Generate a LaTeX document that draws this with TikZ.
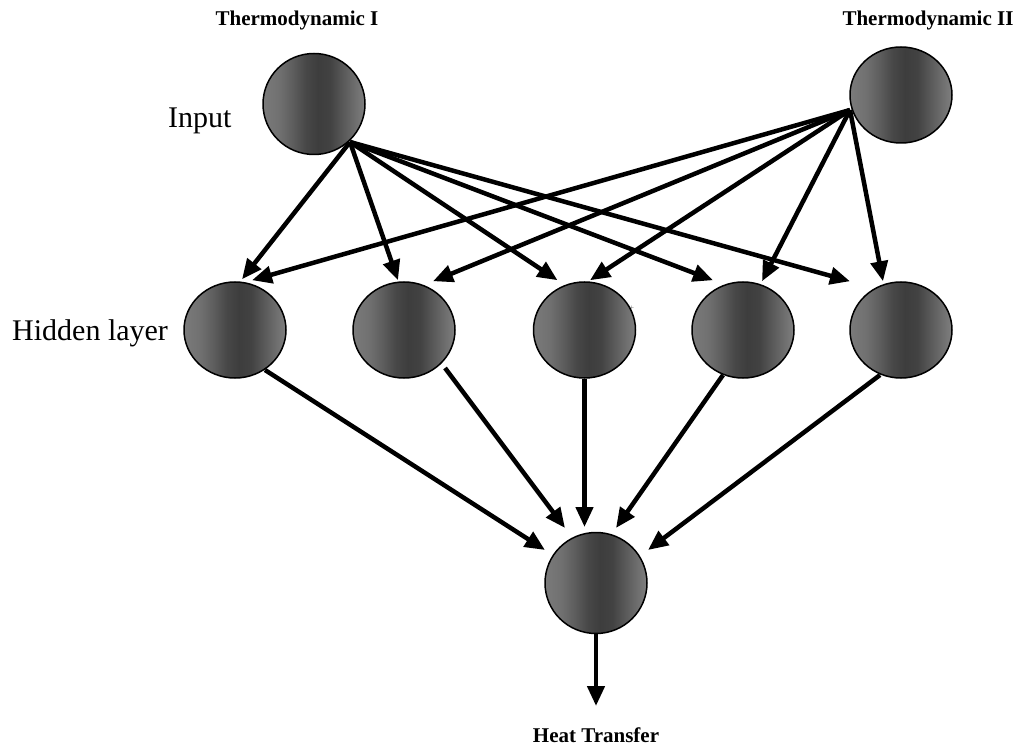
\documentclass[tikz,border=0pt]{standalone}
\usepackage{fontspec}
\setmainfont{Liberation Serif}
\usetikzlibrary{shapes.geometric,arrows.meta,calc}
\pgfdeclarehorizontalshading{ballshade}{100bp}{%
  color(0bp)=(black!52);
  color(25bp)=(black!52);
  color(33bp)=(black!56);
  color(40bp)=(black!64);
  color(46bp)=(black!72);
  color(52bp)=(black!76);
  color(58bp)=(black!74);
  color(65bp)=(black!64);
  color(75bp)=(black!50);
  color(100bp)=(black!50)}
\begin{document}
\begin{tikzpicture}[x=1pt,y=-1pt,
  neuron/.style={ellipse,draw=black,line width=1.5pt,shading=ballshade,
    minimum width=102pt,minimum height=96pt,inner sep=0pt},
  arr/.style={line width=4.5pt,-{Triangle[length=20pt,width=17pt]}},
  boldlbl/.style={font=\fontsize{21}{24}\selectfont\bfseries,inner sep=0pt},
  plainlbl/.style={font=\fontsize{30}{34}\selectfont,inner sep=0pt}]
\useasboundingbox (0,0) rectangle (1018,746);
% nodes
\node[neuron,minimum height=101pt] (i1) at (314,104) {};
\node[neuron] (i2) at (901,95) {};
\node[neuron] (h1) at (235,330) {};
\node[neuron] (h2) at (404,330) {};
\node[neuron] (h3) at (584.5,330) {};
\node[neuron] (h4) at (743,330) {};
\node[neuron] (h5) at (901,330) {};
\node[neuron,minimum height=101pt] (o) at (596,583) {};
% labels
\node[boldlbl,anchor=base] (t1) at (297,26) {Thermodynamic I};
\node[boldlbl,anchor=base] (t2) at (928,26) {Thermodynamic II};
\node[plainlbl,anchor=base west] (lin) at (168,128) {Input};
\node[plainlbl,anchor=base west] (lhid) at (12,341) {Hidden layer};
\node[boldlbl,anchor=base] (lout) at (596,742) {Heat Transfer};
\node[font=\fontsize{8}{8}\selectfont,text=black!60,inner sep=0pt] (plus) at (632,308) {+};
% connector origins
\coordinate (i1o) at (350,142);
\coordinate (i2o) at (850,110);
\coordinate (otip) at (596,706);
% input 1 -> hidden
\draw[arr] (i1o) -- ([shift={(7,-2)}]h1.north);
\draw[arr] (i1o) -- ([shift={(-6,-1)}]h2.north);
\draw[arr] (i1o) -- ([shift={(-27,-1)}]h3.north);
\draw[arr] (i1o) -- ([shift={(-30,-1)}]h4.north);
\draw[arr] (i1o) -- ([shift={(-51,0)}]h5.north);
% input 2 -> hidden
\draw[arr] (i2o) -- ([shift={(17,-1)}]h1.north);
\draw[arr] (i2o) -- ([shift={(29,0)}]h2.north);
\draw[arr] (i2o) -- ([shift={(5.5,-1)}]h3.north);
\draw[arr] (i2o) -- ([shift={(19,0)}]h4.north);
\draw[arr] (i2o) -- ([shift={(-18,0)}]h5.north);
% hidden -> output
\draw[arr] ([shift={(30,40)}]h1.center) -- ([shift={(-51,-33)}]o.center);
\draw[arr] ([shift={(41,38)}]h2.center) -- ([shift={(-31,-55)}]o.center);
\draw[arr] (h3.south) -- ([shift={(-11.5,-56)}]o.center);
\draw[arr] ([shift={(-20,45)}]h4.center) -- ([shift={(20,-55)}]o.center);
\draw[arr] ([shift={(-21,45)}]h5.center) -- ([shift={(52,-33)}]o.center);
% output
\draw[arr] (o.south) -- (otip);
\end{tikzpicture}
\end{document}
